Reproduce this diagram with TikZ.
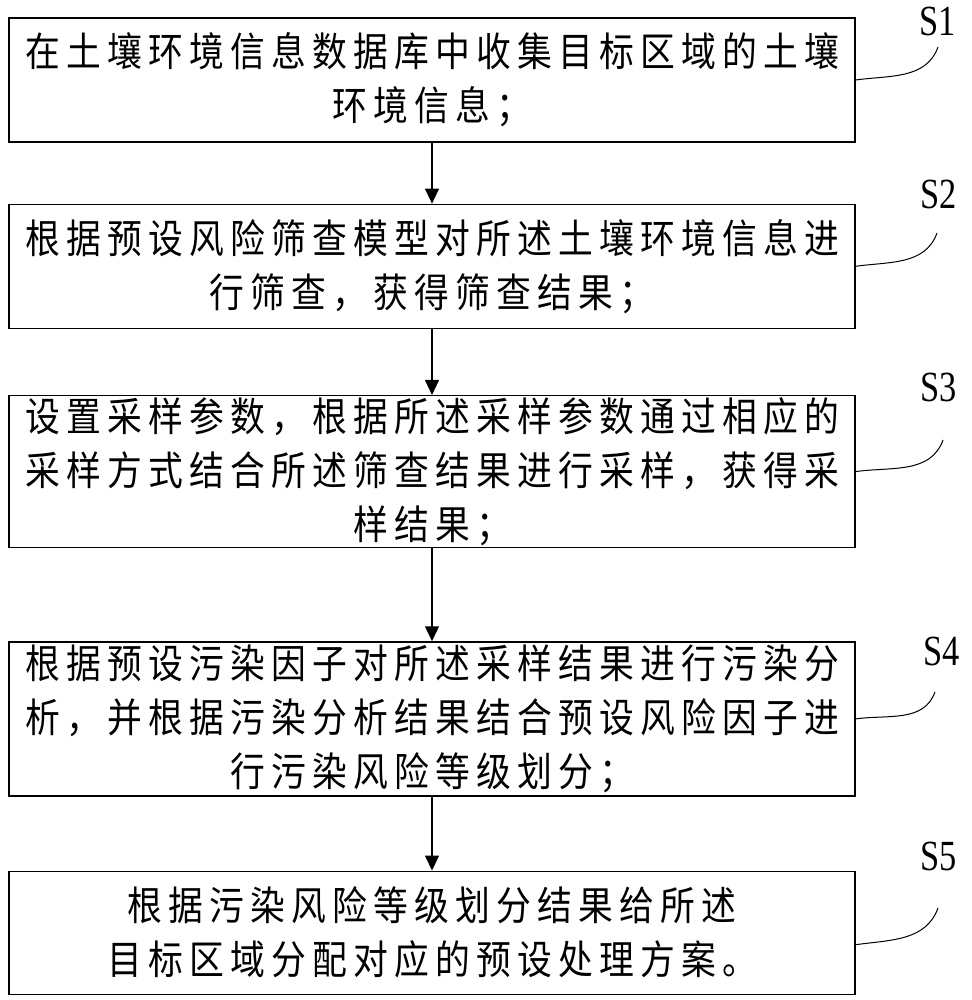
\documentclass[tikz,border=0pt]{standalone}
\usepackage{fontspec}
\setmainfont{Liberation Serif}
\newfontfamily\cjkfont[FakeStretch=0.87,LetterSpace=15.5]{Noto Sans CJK SC}
\newfontfamily\labelfont[FakeStretch=0.8]{Liberation Serif}
\usepackage{tikz}
\usetikzlibrary{arrows.meta,positioning}

\begin{document}
\begin{tikzpicture}[auto,x=1pt,y=1pt,>={Triangle[length=15pt,width=14pt]},line width=1.3pt]
	\tikzstyle{block} = [draw, rectangle, minimum width=846pt, inner sep=0pt, align=center, font=\cjkfont\fontsize{40}{54}\selectfont]
	\tikzstyle{steplabel} = [inner sep=0pt, anchor=south, font=\labelfont\fontsize{43}{43}\selectfont]
	
	\useasboundingbox (0,0) rectangle (971,-1000);
	
	\node [block, minimum height=124pt] (s1) at (432,-80) {在土壤环境信息数据库中收集目标区域的土壤\\环境信息；};
	\node [block, minimum height=124pt, below = 61pt of s1] (s2) {根据预设风险筛查模型对所述土壤环境信息进\\行筛查，获得筛查结果；};
	\node [block, minimum height=152pt, below = 66pt of s2] (s3) {设置采样参数，根据所述采样参数通过相应的\\采样方式结合所述筛查结果进行采样，获得采\\样结果；};
	\node [block, minimum height=154pt, below = 93pt of s3] (s4) {根据预设污染因子对所述采样结果进行污染分\\析，并根据污染分析结果结合预设风险因子进\\行污染风险等级划分；};
	\node [block, minimum height=123pt, below = 74pt of s4] (s5) {根据污染风险等级划分结果给所述\\目标区域分配对应的预设处理方案。};
	
	\coordinate (e1) at (938,-47);
	\coordinate (e2) at (937,-233);
	\coordinate (e3) at (943,-440);
	\coordinate (e4) at (935,-692);
	\coordinate (e5) at (938,-908);
	
	\node [steplabel, above = 10pt of e1] (l1) {S1};
	\node [steplabel, above = 23pt of e2, xshift=2pt] (l2) {S2};
	\node [steplabel, above = 37pt of e3, xshift=-4pt] (l3) {S3};
	\node [steplabel, above = 25pt of e4, xshift=7pt] (l4) {S4};
	\node [steplabel, above = 36pt of e5, xshift=1pt] (l5) {S5};
	
	\draw [->] (s1) -- (s2);
	\draw [->] (s2) -- (s3);
	\draw [->] (s3) -- (s4);
	\draw [->] (s4) -- (s5);
	
	\draw [line width=1pt] (s1.east) to[out=8, in=-110] (e1);
	\draw [line width=1pt] (s2.east) to[out=8, in=-110] (e2);
	\draw [line width=1pt] (s3.east) to[out=8, in=-110] (e3);
	\draw [line width=1pt] (s4.east) to[out=8, in=-110] (e4);
	\draw [line width=1pt] ([yshift=-12pt]s5.east) to[out=8, in=-110] (e5);
	
\end{tikzpicture}
\end{document}
